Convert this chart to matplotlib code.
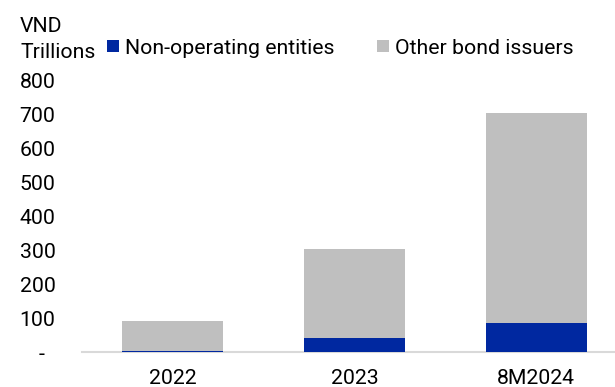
import matplotlib
matplotlib.use("Agg")
import matplotlib.pyplot as plt
from matplotlib.ticker import FuncFormatter

categories = ["2022", "2023", "8M2024"]
non_operating = [3, 41, 85]
other_issuers = [88, 262, 621]
y_ticks = [0, 100, 200, 300, 400, 500, 600, 700, 800]

BLUE = "#0028A0"
GRAY = "#BFBFBF"
FS = 15.3

plt.rcParams["font.family"] = ["Roboto", "DejaVu Sans"]

fig = plt.figure(figsize=(6.15, 3.87), dpi=100)
W, H = 615, 387
ax = fig.add_axes([82 / W, 1 - 352 / H, (627 - 82) / W, (352 - 80.7) / H])

x = range(len(categories))
b1 = ax.bar(x, non_operating, width=0.555, color=BLUE, label="Non-operating entities", zorder=2)
b2 = ax.bar(x, other_issuers, width=0.555, bottom=non_operating, color=GRAY,
            label="Other bond issuers", zorder=2)

ax.set_xlim(-0.5, 2.5)
ax.set_ylim(0, 800)
ax.set_yticks(y_ticks)
ax.yaxis.set_major_formatter(FuncFormatter(lambda v, p: "-  " if v == 0 else f"{v:.0f}"))
ax.set_xticks(list(x))
ax.set_xticklabels(categories)
ax.tick_params(axis="y", length=0, pad=19, labelsize=FS, colors="black")
ax.tick_params(axis="x", length=0, pad=12, labelsize=FS, colors="black")

for s in ["top", "right", "left"]:
    ax.spines[s].set_visible(False)
ax.spines["bottom"].set_color("#D9D9D9")
ax.spines["bottom"].set_linewidth(1.5)
ax.spines["bottom"].set_zorder(1)

fig.text(20 / W, 1 - 26 / H, "VND", fontsize=FS, ha="left", va="center")
fig.text(20 / W, 1 - 53 / H, "Trillions", fontsize=FS, ha="left", va="center")

fig.legend(handles=[b1, b2], loc="center left", bbox_to_anchor=(107 / W, 1 - 48 / H),
           ncol=2, frameon=False, fontsize=FS, borderpad=0, borderaxespad=0,
           handlelength=0.55, handleheight=0.55, handletextpad=0.3, columnspacing=2.0)

fig.savefig("out.png", dpi=100)
